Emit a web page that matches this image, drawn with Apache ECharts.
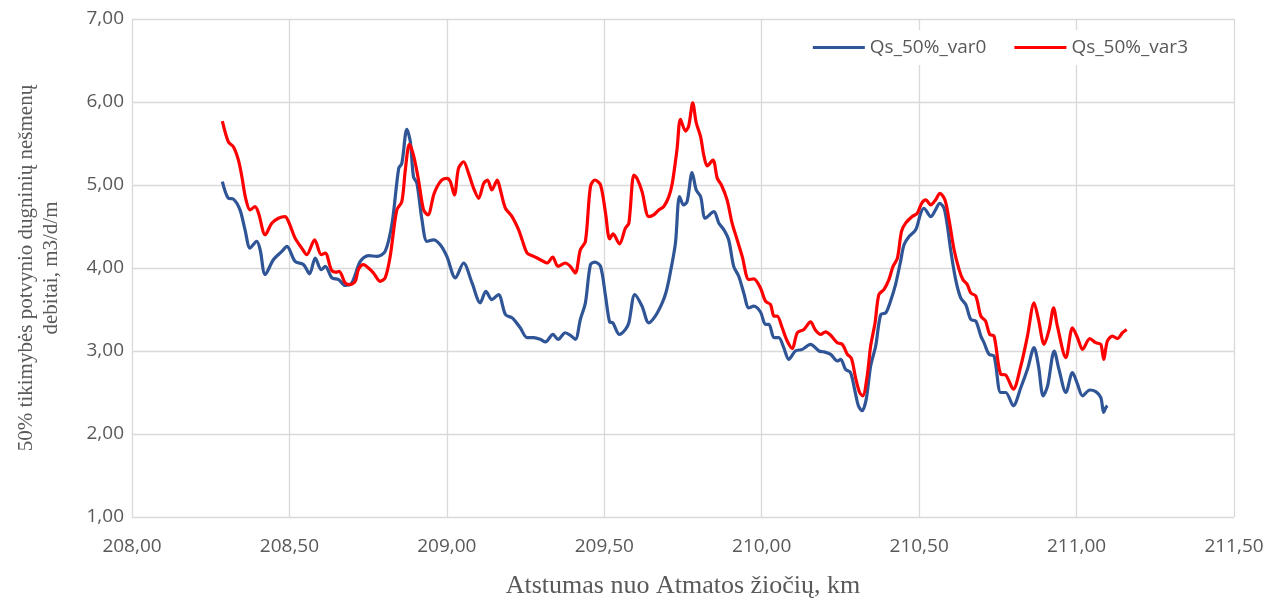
<!DOCTYPE html>
<html>
<head>
<meta charset="utf-8">
<script src="https://cdn.jsdelivr.net/npm/echarts@6/dist/echarts.min.js"></script>
<style>
  html, body { margin: 0; padding: 0; background: #fff; }
  #chart { width: 1281px; height: 604px; }
</style>
</head>
<body>
<div id="chart"></div>
<script>
// atstumas nuo žiočių, km (var0)
const dist0 = [
  208.287, 208.306, 208.322, 208.343, 208.359, 208.375, 208.396, 208.407, 208.423, 208.449,
  208.476, 208.492, 208.518, 208.545, 208.564, 208.582, 208.601, 208.614, 208.635, 208.656,
  208.677, 208.698, 208.725, 208.751, 208.778, 208.804, 208.826, 208.847, 208.857, 208.873,
  208.884, 208.894, 208.905, 208.921, 208.937, 208.958, 208.979, 209.000, 209.027, 209.053,
  209.080, 209.106, 209.124, 209.143, 209.164, 209.186, 209.207, 209.217, 209.233, 209.255,
  209.276, 209.297, 209.313, 209.337, 209.353, 209.376, 209.392, 209.408, 209.424, 209.440,
  209.456, 209.470, 209.488, 209.504, 209.517, 209.527, 209.548, 209.567, 209.578, 209.597,
  209.620, 209.641, 209.662, 209.684, 209.697, 209.710, 209.726, 209.739, 209.752, 209.763,
  209.779, 209.792, 209.806, 209.821, 209.848, 209.864, 209.880, 209.895, 209.911, 209.927,
  209.943, 209.959, 209.975, 209.996, 210.012, 210.023, 210.039, 210.054, 210.070, 210.086,
  210.107, 210.129, 210.155, 210.182, 210.197, 210.219, 210.240, 210.251, 210.266, 210.282,
  210.296, 210.307, 210.319, 210.332, 210.346, 210.362, 210.378, 210.394, 210.409, 210.425,
  210.441, 210.452, 210.468, 210.489, 210.505, 210.515, 210.537, 210.552, 210.565, 210.579,
  210.590, 210.600, 210.616, 210.632, 210.648, 210.664, 210.680, 210.696, 210.706, 210.722,
  210.738, 210.759, 210.775, 210.799, 210.823, 210.844, 210.865, 210.879, 210.894, 210.908,
  210.929, 210.944, 210.966, 210.987, 211.003, 211.019, 211.042, 211.061, 211.077, 211.086,
  211.093, 211.098
]
const var0 = [
  5.04, 4.84, 4.83, 4.70, 4.46, 4.24, 4.32, 4.22, 3.92, 4.10,
  4.20, 4.26, 4.08, 4.04, 3.93, 4.12, 3.98, 4.02, 3.88, 3.86,
  3.79, 3.82, 4.08, 4.15, 4.14, 4.20, 4.54, 5.20, 5.26, 5.67,
  5.52, 5.10, 5.02, 4.58, 4.32, 4.34, 4.28, 4.14, 3.88, 4.06,
  3.82, 3.58, 3.72, 3.62, 3.68, 3.44, 3.40, 3.36, 3.28, 3.16,
  3.16, 3.14, 3.11, 3.20, 3.14, 3.22, 3.19, 3.14, 3.38, 3.58,
  4.04, 4.07, 4.02, 3.66, 3.35, 3.34, 3.20, 3.26, 3.34, 3.68,
  3.54, 3.34, 3.42, 3.58, 3.72, 3.95, 4.30, 4.86, 4.76, 4.80,
  5.15, 4.94, 4.86, 4.60, 4.68, 4.54, 4.46, 4.34, 4.02, 3.90,
  3.70, 3.52, 3.54, 3.47, 3.32, 3.32, 3.16, 3.16, 3.04, 2.90,
  3.00, 3.02, 3.08, 3.00, 2.99, 2.96, 2.88, 2.90, 2.78, 2.74,
  2.52, 2.34, 2.28, 2.42, 2.82, 3.06, 3.44, 3.46, 3.60, 3.80,
  4.08, 4.28, 4.38, 4.46, 4.66, 4.72, 4.62, 4.70, 4.78, 4.72,
  4.50, 4.22, 3.86, 3.64, 3.56, 3.38, 3.36, 3.18, 3.10, 2.96,
  2.94, 2.50, 2.50, 2.34, 2.56, 2.78, 3.04, 2.82, 2.46, 2.58,
  3.00, 2.78, 2.50, 2.74, 2.60, 2.46, 2.53, 2.51, 2.44, 2.26,
  2.32, 2.34
]

// atstumas nuo žiočių, km (var3)
const dist3 = [
  208.287, 208.306, 208.322, 208.338, 208.349, 208.361, 208.375, 208.391, 208.402, 208.423,
  208.444, 208.465, 208.486, 208.497, 208.518, 208.539, 208.555, 208.580, 208.601, 208.614,
  208.633, 208.648, 208.658, 208.677, 208.693, 208.709, 208.719, 208.735, 208.751, 208.767,
  208.788, 208.804, 208.820, 208.841, 208.857, 208.868, 208.881, 208.894, 208.910, 208.926,
  208.940, 208.958, 208.969, 208.984, 209.000, 209.011, 209.024, 209.037, 209.053, 209.069,
  209.085, 209.101, 209.117, 209.129, 209.143, 209.160, 209.170, 209.186, 209.207, 209.228,
  209.239, 209.255, 209.276, 209.297, 209.318, 209.336, 209.353, 209.376, 209.392, 209.408,
  209.424, 209.440, 209.456, 209.470, 209.488, 209.504, 209.517, 209.528, 209.548, 209.567,
  209.578, 209.594, 209.604, 209.620, 209.641, 209.657, 209.673, 209.689, 209.705, 209.716,
  209.731, 209.742, 209.758, 209.768, 209.781, 209.792, 209.806, 209.816, 209.827, 209.845,
  209.859, 209.872, 209.890, 209.906, 209.922, 209.938, 209.959, 209.975, 209.996, 210.012,
  210.028, 210.039, 210.049, 210.065, 210.081, 210.097, 210.113, 210.134, 210.155, 210.171,
  210.187, 210.203, 210.219, 210.240, 210.256, 210.272, 210.285, 210.298, 210.311, 210.321,
  210.335, 210.346, 210.360, 210.372, 210.388, 210.404, 210.417, 210.431, 210.444, 210.457,
  210.478, 210.494, 210.508, 210.521, 210.537, 210.552, 210.566, 210.582, 210.595, 210.611,
  210.627, 210.639, 210.653, 210.664, 210.680, 210.696, 210.711, 210.724, 210.738, 210.759,
  210.775, 210.799, 210.823, 210.844, 210.865, 210.879, 210.897, 210.913, 210.927, 210.939,
  210.966, 210.987, 211.003, 211.019, 211.042, 211.061, 211.077, 211.086, 211.098, 211.114,
  211.130, 211.146, 211.159
]
const var3 = [
  5.77, 5.52, 5.46, 5.30, 5.10, 4.84, 4.70, 4.74, 4.66, 4.40,
  4.54, 4.60, 4.62, 4.56, 4.36, 4.24, 4.16, 4.34, 4.16, 4.18,
  3.98, 3.95, 3.96, 3.82, 3.80, 3.84, 3.98, 4.04, 4.00, 3.94,
  3.84, 3.88, 4.14, 4.70, 4.80, 5.18, 5.49, 5.36, 5.06, 4.70,
  4.64, 4.88, 4.98, 5.06, 5.08, 5.04, 4.88, 5.20, 5.28, 5.14,
  4.96, 4.84, 5.02, 5.06, 4.94, 5.06, 4.94, 4.72, 4.62, 4.46,
  4.34, 4.18, 4.14, 4.10, 4.06, 4.13, 4.02, 4.06, 4.02, 3.94,
  4.22, 4.32, 4.98, 5.06, 5.00, 4.66, 4.35, 4.41, 4.29, 4.48,
  4.54, 5.12, 5.08, 4.92, 4.62, 4.64, 4.70, 4.74, 4.86, 5.02,
  5.43, 5.79, 5.65, 5.71, 5.99, 5.75, 5.58, 5.36, 5.23, 5.30,
  5.08, 5.00, 4.82, 4.54, 4.34, 4.14, 3.86, 3.87, 3.76, 3.60,
  3.56, 3.42, 3.42, 3.28, 3.12, 3.03, 3.22, 3.26, 3.35, 3.25,
  3.20, 3.23, 3.19, 3.10, 3.08, 2.96, 2.91, 2.68, 2.50, 2.46,
  2.70, 3.06, 3.34, 3.68, 3.74, 3.86, 4.02, 4.12, 4.44, 4.54,
  4.62, 4.66, 4.78, 4.82, 4.76, 4.82, 4.90, 4.82, 4.58, 4.22,
  3.98, 3.86, 3.80, 3.70, 3.66, 3.42, 3.36, 3.20, 3.18, 2.72,
  2.71, 2.54, 2.82, 3.18, 3.58, 3.38, 3.08, 3.26, 3.52, 3.30,
  2.92, 3.28, 3.16, 3.02, 3.15, 3.10, 3.08, 2.90, 3.12, 3.18,
  3.15, 3.22, 3.26
]

const seriesNames = ['Qs_50%_var0', 'Qs_50%_var3']
const xTitle = 'Atstumas nuo Atmatos žiočių, km'
const yTitle = '50% tikimybės potvynio dugninių nešmenų\ndebitai, m3/d/m'

const chart = echarts.init(document.getElementById('chart'))

const comma = v => v.toFixed(2).replace('.', ',')
const pairs = (xs, ys) => xs.map((x, i) => [x, ys[i]])

const option = {
  animation: false,
  backgroundColor: '#fff',
  grid: { left: 132, right: 47, top: 19, bottom: 86 },
  legend: {
    data: seriesNames,
    right: 83,
    top: 30,
    backgroundColor: '#fff',
    padding: [8, 10],
    itemGap: 28,
    itemWidth: 52,
    itemHeight: 3,
    icon: 'rect',
    textStyle: { fontFamily: 'Open Sans', fontSize: 19, color: '#595959' }
  },
  xAxis: {
    type: 'value',
    min: 208,
    max: 211.5,
    interval: 0.5,
    name: xTitle,
    nameLocation: 'middle',
    nameGap: 56,
    nameTextStyle: { fontFamily: 'Liberation Serif', fontSize: 26, color: '#595959' },
    axisLine: { show: false },
    axisTick: { show: false },
    axisLabel: {
      formatter: comma, margin: 20,
      fontFamily: 'Open Sans', fontSize: 19, color: '#595959'
    },
    splitLine: { show: true, lineStyle: { color: '#d9d9d9', width: 1.3 } }
  },
  yAxis: {
    type: 'value',
    min: 1,
    max: 7,
    interval: 1,
    name: yTitle,
    nameLocation: 'middle',
    nameGap: 68,
    nameTextStyle: { fontFamily: 'Liberation Serif', fontSize: 21, color: '#595959', lineHeight: 25 },
    axisLine: { show: false },
    axisTick: { show: false },
    axisLabel: {
      formatter: comma, margin: 8,
      fontFamily: 'Open Sans', fontSize: 19, color: '#595959'
    },
    splitLine: { show: true, lineStyle: { color: '#d9d9d9', width: 1.3 } }
  },
  series: [
    {
      name: seriesNames[0],
      type: 'line',
      data: pairs(dist0, var0),
      smooth: 0.3,
      showSymbol: false,
      color: '#2f5597',
      lineStyle: { width: 3.2, color: '#2f5597' }
    },
    {
      name: seriesNames[1],
      type: 'line',
      data: pairs(dist3, var3),
      smooth: 0.3,
      showSymbol: false,
      color: '#ff0000',
      lineStyle: { width: 3.2, color: '#ff0000' }
    }
  ]
}

chart.setOption(option)
</script>
</body>
</html>
